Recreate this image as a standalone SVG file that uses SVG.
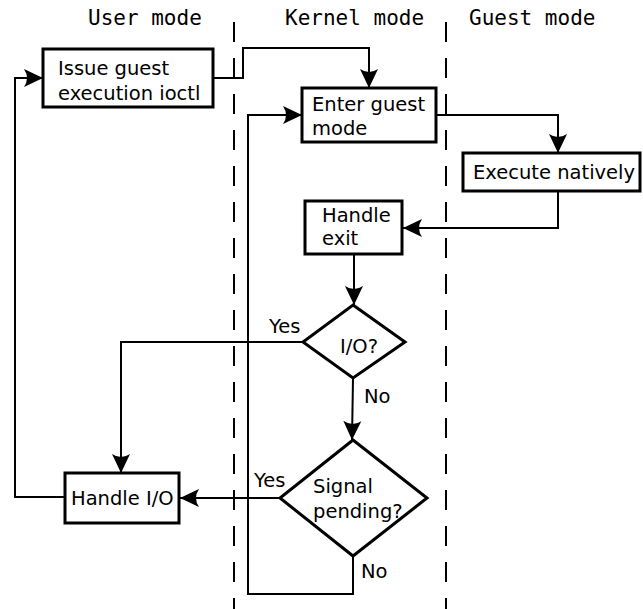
<svg xmlns="http://www.w3.org/2000/svg" width="643" height="609" viewBox="0 0 643 609">
  <defs>
    <marker id="arrow" markerUnits="userSpaceOnUse" viewBox="-20 -10 21 20" refX="0" refY="0" markerWidth="21" markerHeight="20" orient="auto">
      <path d="M0,0 L-19,-9 Q-13,0 -19,9 Z" fill="#000"/>
    </marker>
  </defs>
  <style>
    .lane { stroke: #000; stroke-width: 2; stroke-dasharray: 20 16; fill: none; }
    .hdr { font-family: "DejaVu Sans Mono", "Liberation Mono", monospace; font-size: 21px; fill: #000; }
    .box { fill: #fff; stroke: #000; stroke-width: 3; }
    .txt { font-family: "DejaVu Sans", "Liberation Sans", sans-serif; font-size: 19.5px; fill: #000; }
    .conn { fill: none; stroke: #000; stroke-width: 2; }
    .arr { marker-end: url(#arrow); }
  </style>

  <rect width="643" height="609" fill="#fff"/>

  <!-- swimlane headers and separators -->
  <g id="lanes">
    <text class="hdr" x="88" y="25">User mode</text>
    <text class="hdr" x="285" y="25">Kernel mode</text>
    <text class="hdr" x="469" y="25">Guest mode</text>
    <line class="lane" x1="234" y1="22" x2="234" y2="609"/>
    <line class="lane" x1="446" y1="22" x2="446" y2="609"/>
  </g>

  <!-- connectors -->
  <g id="connectors">
    <path class="conn arr" d="M213,78 H243 V48 H369 V88"/>
    <path class="conn arr" d="M436,115 H558 V153"/>
    <path class="conn arr" d="M558,191 V228 H403"/>
    <path class="conn arr" d="M354,254 V305"/>
    <path class="conn arr" d="M303,342 H121 V473"/>
    <path class="conn arr" d="M353,378 L352,440"/>
    <path class="conn arr" d="M280,498 H180"/>
    <path class="conn arr" d="M65,497 H15 V78 H43"/>
    <path class="conn arr" d="M353,556 V594 H248 V115 H302"/>
  </g>

  <!-- branch labels -->
  <g id="labels">
    <text class="txt" x="269" y="333">Yes</text>
    <text class="txt" x="364" y="403">No</text>
    <text class="txt" x="254" y="487">Yes</text>
    <text class="txt" x="361" y="578">No</text>
  </g>

  <g id="issue-ioctl">
    <rect class="box" x="43" y="49" width="170" height="58"/>
    <text class="txt" x="58" y="75">Issue guest</text>
    <text class="txt" x="58" y="100">execution ioctl</text>
  </g>

  <g id="enter-guest">
    <rect class="box" x="302" y="88" width="134" height="54"/>
    <text class="txt" x="312" y="111">Enter guest</text>
    <text class="txt" x="312" y="135">mode</text>
  </g>

  <g id="execute-natively">
    <rect class="box" x="463" y="153" width="177" height="38"/>
    <text class="txt" x="473" y="179">Execute natively</text>
  </g>

  <g id="handle-exit">
    <rect class="box" x="305" y="201" width="97" height="53"/>
    <text class="txt" x="322" y="222">Handle</text>
    <text class="txt" x="322" y="245">exit</text>
  </g>

  <g id="io-decision">
    <polygon class="box" points="353,305 405,342 353,378 303,342"/>
    <text class="txt" x="340" y="353">I/O?</text>
  </g>

  <g id="signal-decision">
    <polygon class="box" points="353,440 427,498 353,556 280,498"/>
    <text class="txt" x="313" y="493">Signal</text>
    <text class="txt" x="313" y="518">pending?</text>
  </g>

  <g id="handle-io">
    <rect class="box" x="65" y="473" width="114" height="50"/>
    <text class="txt" x="71" y="505">Handle I/O</text>
  </g>
</svg>
